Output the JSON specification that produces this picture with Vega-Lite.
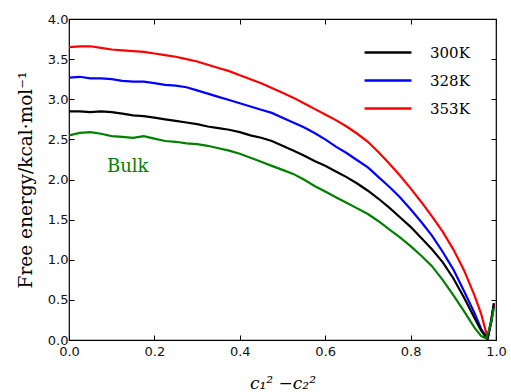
{
  "$schema": "https://vega.github.io/schema/vega-lite/v6.json",
  "width": 427,
  "height": 321,
  "autosize": {"type": "none"},
  "padding": {"left": 69, "top": 19, "right": 15, "bottom": 52},
  "config": {
    "view": {"stroke": "#000000", "strokeWidth": 1.2},
    "axis": {"grid": false, "domain": false, "ticks": true, "tickColor": "#000000", "tickWidth": 1, "tickSize": 5, "offset": -5, "labelFont": "DejaVu Sans", "labelFontSize": 13, "labelColor": "#111111", "titleFont": "DejaVu Serif", "titleFontWeight": "normal", "titleColor": "#000000"}
  },
  "data": {"values": [
    {"x":0,"y":3.65,"T":"353K"},{"x":0.025,"y":3.66,"T":"353K"},{"x":0.05,"y":3.66,"T":"353K"},{"x":0.075,"y":3.64,"T":"353K"},{"x":0.1,"y":3.62,"T":"353K"},{"x":0.125,"y":3.61,"T":"353K"},{"x":0.15,"y":3.60,"T":"353K"},{"x":0.175,"y":3.59,"T":"353K"},{"x":0.2,"y":3.57,"T":"353K"},{"x":0.225,"y":3.55,"T":"353K"},{"x":0.25,"y":3.53,"T":"353K"},{"x":0.275,"y":3.50,"T":"353K"},{"x":0.3,"y":3.47,"T":"353K"},{"x":0.325,"y":3.43,"T":"353K"},{"x":0.35,"y":3.39,"T":"353K"},{"x":0.375,"y":3.35,"T":"353K"},{"x":0.4,"y":3.30,"T":"353K"},{"x":0.425,"y":3.25,"T":"353K"},{"x":0.45,"y":3.20,"T":"353K"},{"x":0.475,"y":3.14,"T":"353K"},{"x":0.5,"y":3.08,"T":"353K"},{"x":0.525,"y":3.02,"T":"353K"},{"x":0.55,"y":2.95,"T":"353K"},{"x":0.575,"y":2.88,"T":"353K"},{"x":0.6,"y":2.81,"T":"353K"},{"x":0.625,"y":2.74,"T":"353K"},{"x":0.65,"y":2.66,"T":"353K"},{"x":0.675,"y":2.57,"T":"353K"},{"x":0.7,"y":2.47,"T":"353K"},{"x":0.725,"y":2.34,"T":"353K"},{"x":0.75,"y":2.20,"T":"353K"},{"x":0.775,"y":2.05,"T":"353K"},{"x":0.8,"y":1.89,"T":"353K"},{"x":0.825,"y":1.72,"T":"353K"},{"x":0.85,"y":1.54,"T":"353K"},{"x":0.875,"y":1.35,"T":"353K"},{"x":0.9,"y":1.13,"T":"353K"},{"x":0.925,"y":0.87,"T":"353K"},{"x":0.95,"y":0.55,"T":"353K"},{"x":0.965,"y":0.33,"T":"353K"},{"x":0.98,"y":0.03,"T":"353K"},{"x":0.988,"y":0.22,"T":"353K"},{"x":0.995,"y":0.45,"T":"353K"},
    {"x":0,"y":3.27,"T":"328K"},{"x":0.025,"y":3.28,"T":"328K"},{"x":0.05,"y":3.26,"T":"328K"},{"x":0.075,"y":3.26,"T":"328K"},{"x":0.1,"y":3.25,"T":"328K"},{"x":0.125,"y":3.23,"T":"328K"},{"x":0.15,"y":3.22,"T":"328K"},{"x":0.175,"y":3.22,"T":"328K"},{"x":0.2,"y":3.20,"T":"328K"},{"x":0.225,"y":3.18,"T":"328K"},{"x":0.25,"y":3.17,"T":"328K"},{"x":0.275,"y":3.15,"T":"328K"},{"x":0.3,"y":3.11,"T":"328K"},{"x":0.325,"y":3.07,"T":"328K"},{"x":0.35,"y":3.03,"T":"328K"},{"x":0.375,"y":2.99,"T":"328K"},{"x":0.4,"y":2.95,"T":"328K"},{"x":0.425,"y":2.91,"T":"328K"},{"x":0.45,"y":2.87,"T":"328K"},{"x":0.475,"y":2.83,"T":"328K"},{"x":0.5,"y":2.77,"T":"328K"},{"x":0.525,"y":2.71,"T":"328K"},{"x":0.55,"y":2.65,"T":"328K"},{"x":0.575,"y":2.58,"T":"328K"},{"x":0.6,"y":2.50,"T":"328K"},{"x":0.625,"y":2.41,"T":"328K"},{"x":0.65,"y":2.33,"T":"328K"},{"x":0.675,"y":2.24,"T":"328K"},{"x":0.7,"y":2.15,"T":"328K"},{"x":0.725,"y":2.03,"T":"328K"},{"x":0.75,"y":1.91,"T":"328K"},{"x":0.775,"y":1.78,"T":"328K"},{"x":0.8,"y":1.63,"T":"328K"},{"x":0.825,"y":1.47,"T":"328K"},{"x":0.85,"y":1.30,"T":"328K"},{"x":0.875,"y":1.10,"T":"328K"},{"x":0.9,"y":0.88,"T":"328K"},{"x":0.925,"y":0.61,"T":"328K"},{"x":0.95,"y":0.33,"T":"328K"},{"x":0.965,"y":0.14,"T":"328K"},{"x":0.98,"y":0.01,"T":"328K"},{"x":0.988,"y":0.20,"T":"328K"},{"x":0.995,"y":0.42,"T":"328K"},
    {"x":0,"y":2.85,"T":"300K"},{"x":0.025,"y":2.85,"T":"300K"},{"x":0.05,"y":2.84,"T":"300K"},{"x":0.075,"y":2.85,"T":"300K"},{"x":0.1,"y":2.84,"T":"300K"},{"x":0.125,"y":2.82,"T":"300K"},{"x":0.15,"y":2.80,"T":"300K"},{"x":0.175,"y":2.79,"T":"300K"},{"x":0.2,"y":2.77,"T":"300K"},{"x":0.225,"y":2.75,"T":"300K"},{"x":0.25,"y":2.73,"T":"300K"},{"x":0.275,"y":2.71,"T":"300K"},{"x":0.3,"y":2.69,"T":"300K"},{"x":0.325,"y":2.66,"T":"300K"},{"x":0.35,"y":2.64,"T":"300K"},{"x":0.375,"y":2.62,"T":"300K"},{"x":0.4,"y":2.59,"T":"300K"},{"x":0.425,"y":2.55,"T":"300K"},{"x":0.45,"y":2.52,"T":"300K"},{"x":0.475,"y":2.48,"T":"300K"},{"x":0.5,"y":2.42,"T":"300K"},{"x":0.525,"y":2.36,"T":"300K"},{"x":0.55,"y":2.30,"T":"300K"},{"x":0.575,"y":2.23,"T":"300K"},{"x":0.6,"y":2.17,"T":"300K"},{"x":0.625,"y":2.10,"T":"300K"},{"x":0.65,"y":2.03,"T":"300K"},{"x":0.675,"y":1.95,"T":"300K"},{"x":0.7,"y":1.86,"T":"300K"},{"x":0.725,"y":1.76,"T":"300K"},{"x":0.75,"y":1.65,"T":"300K"},{"x":0.775,"y":1.53,"T":"300K"},{"x":0.8,"y":1.41,"T":"300K"},{"x":0.825,"y":1.27,"T":"300K"},{"x":0.85,"y":1.13,"T":"300K"},{"x":0.875,"y":0.97,"T":"300K"},{"x":0.9,"y":0.77,"T":"300K"},{"x":0.925,"y":0.53,"T":"300K"},{"x":0.95,"y":0.27,"T":"300K"},{"x":0.965,"y":0.12,"T":"300K"},{"x":0.98,"y":0.01,"T":"300K"},{"x":0.988,"y":0.22,"T":"300K"},{"x":0.995,"y":0.46,"T":"300K"},
    {"x":0,"y":2.55,"T":"Bulk"},{"x":0.025,"y":2.58,"T":"Bulk"},{"x":0.05,"y":2.59,"T":"Bulk"},{"x":0.075,"y":2.57,"T":"Bulk"},{"x":0.1,"y":2.54,"T":"Bulk"},{"x":0.125,"y":2.53,"T":"Bulk"},{"x":0.15,"y":2.52,"T":"Bulk"},{"x":0.175,"y":2.54,"T":"Bulk"},{"x":0.2,"y":2.51,"T":"Bulk"},{"x":0.225,"y":2.48,"T":"Bulk"},{"x":0.25,"y":2.47,"T":"Bulk"},{"x":0.275,"y":2.45,"T":"Bulk"},{"x":0.3,"y":2.44,"T":"Bulk"},{"x":0.325,"y":2.42,"T":"Bulk"},{"x":0.35,"y":2.39,"T":"Bulk"},{"x":0.375,"y":2.36,"T":"Bulk"},{"x":0.4,"y":2.32,"T":"Bulk"},{"x":0.425,"y":2.27,"T":"Bulk"},{"x":0.45,"y":2.22,"T":"Bulk"},{"x":0.475,"y":2.17,"T":"Bulk"},{"x":0.5,"y":2.12,"T":"Bulk"},{"x":0.525,"y":2.07,"T":"Bulk"},{"x":0.55,"y":2.00,"T":"Bulk"},{"x":0.575,"y":1.92,"T":"Bulk"},{"x":0.6,"y":1.85,"T":"Bulk"},{"x":0.625,"y":1.78,"T":"Bulk"},{"x":0.65,"y":1.71,"T":"Bulk"},{"x":0.675,"y":1.64,"T":"Bulk"},{"x":0.7,"y":1.57,"T":"Bulk"},{"x":0.725,"y":1.48,"T":"Bulk"},{"x":0.75,"y":1.38,"T":"Bulk"},{"x":0.775,"y":1.28,"T":"Bulk"},{"x":0.8,"y":1.17,"T":"Bulk"},{"x":0.825,"y":1.05,"T":"Bulk"},{"x":0.85,"y":0.92,"T":"Bulk"},{"x":0.875,"y":0.75,"T":"Bulk"},{"x":0.9,"y":0.56,"T":"Bulk"},{"x":0.925,"y":0.36,"T":"Bulk"},{"x":0.95,"y":0.15,"T":"Bulk"},{"x":0.965,"y":0.05,"T":"Bulk"},{"x":0.977,"y":0.02,"T":"Bulk"},{"x":0.988,"y":0.20,"T":"Bulk"},{"x":0.995,"y":0.40,"T":"Bulk"}
  ]},
  "layer": [
    {
      "mark": {"type": "line", "strokeWidth": 2.2, "clip": true},
      "encoding": {
        "x": {"field": "x", "type": "quantitative", "scale": {"domain": [0, 1], "nice": false}, "axis": {"tickCount": 5, "format": ".1f", "labelPadding": 5, "labelFlush": false, "labelOverlap": false, "title": "c₁² −c₂²", "titleFontSize": 17, "titleFontStyle": "italic", "titlePadding": 17}},
        "y": {"field": "y", "type": "quantitative", "scale": {"domain": [0, 4], "nice": false}, "axis": {"tickCount": 8, "format": ".1f", "labelPadding": 1, "labelFlush": false, "labelOverlap": false, "title": "Free energy/kcal·mol⁻¹", "titleFontSize": 18.5, "titlePadding": 12}},
        "color": {"field": "T", "type": "nominal", "scale": {"domain": ["300K", "328K", "353K", "Bulk"], "range": ["#000000", "#0000ff", "#ff0000", "#008000"]},
          "legend": {"values": ["300K", "328K", "353K"], "title": null, "orient": "none", "legendX": 294, "legendY": 19.5, "symbolType": "stroke", "symbolSize": 2200, "symbolStrokeWidth": 2.5, "clipHeight": 28, "rowPadding": 0, "labelFont": "DejaVu Serif", "labelFontSize": 15, "labelColor": "#000000", "labelOffset": 17}}
      }
    },
    {
      "data": {"values": [{"x": 0.089, "y": 2.15, "label": "Bulk"}]},
      "mark": {"type": "text", "align": "left", "baseline": "middle", "font": "DejaVu Serif", "fontSize": 18, "color": "#008000"},
      "encoding": {
        "x": {"field": "x", "type": "quantitative", "axis": {"tickCount": 5, "labels": false, "title": null}},
        "y": {"field": "y", "type": "quantitative", "axis": {"tickCount": 8, "labels": false, "title": null}},
        "text": {"field": "label"}
      }
    }
  ],
  "resolve": {"axis": {"x": "independent", "y": "independent"}}
}
